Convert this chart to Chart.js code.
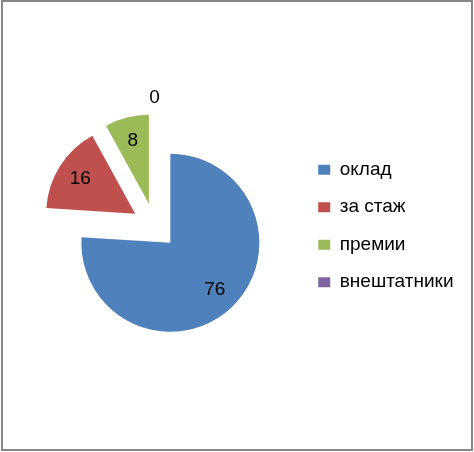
<!DOCTYPE html>
<html>
<head>
<meta charset="utf-8">
<script src="https://cdn.jsdelivr.net/npm/chart.js@4/dist/chart.umd.min.js"></script>
<style>
  body { margin: 0; background: #fff; }
  #wrap { width: 474px; height: 452px; }
</style>
</head>
<body>
<div id="wrap"><canvas id="myChart" width="474" height="452"></canvas></div>
<script>
const labels = ['оклад', 'за стаж', 'премии', 'внештатники']
const values = [76, 16, 8, 0]
const colors = ['#4F81BD', '#C0504D', '#9BBB59', '#8064A2']

const FONT = '"Liberation Sans", Arial, sans-serif'
const RADIUS = 89
const EXPLODE = 23   // px each slice is pulled out

// chart.js grows an exploded arc by offset*fix and trims its angles;
// undo both so the slices look like a plain exploded pie
const fixRadius = {
  id: 'fixRadius',
  afterDatasetUpdate(chart, args) {
    const meta = chart.getDatasetMeta(args.index)
    meta.data.forEach(arc => {
      const off = (arc.options.offset || 0) / 4
      const fix = 1 - Math.sin(Math.min(Math.PI, arc.circumference || 0))
      const rOff = off * fix
      arc.outerRadius = RADIUS - rOff
      if (arc.circumference > 0) {
        const trim = rOff / (2 * Math.PI * RADIUS)
        arc.startAngle -= trim
        arc.endAngle += trim
      }
    })
  }
}

// value labels drawn inside slices, zero values just outside
const sliceLabels = {
  id: 'sliceLabels',
  afterDatasetsDraw(chart) {
    const ctx = chart.ctx
    const meta = chart.getDatasetMeta(0)
    ctx.save()
    ctx.font = '19px ' + FONT
    ctx.fillStyle = '#000'
    ctx.textAlign = 'center'
    ctx.textBaseline = 'middle'
    meta.data.forEach((arc, i) => {
      const mid = (arc.startAngle + arc.endAngle) / 2
      const off = (arc.options.offset || 0) / 4
      const d = values[i] == 0 ? off + RADIUS + 16 : off + RADIUS * 0.73
      ctx.fillText(String(values[i]), arc.x + Math.cos(mid) * d, arc.y + Math.sin(mid) * d)
    })
    ctx.restore()
  }
}

const frame = {
  id: 'frame',
  afterDraw(chart) {
    const ctx = chart.ctx
    ctx.save()
    ctx.strokeStyle = '#878787'
    ctx.lineWidth = 2
    ctx.strokeRect(2, 1, 470, 449)
    ctx.restore()
  }
}

const data = {
  labels: labels,
  datasets: [{
    data: values,
    backgroundColor: colors,
    borderWidth: 0,
    offset: EXPLODE * 4,
    radius: RADIUS
  }]
}

const config = {
  type: 'pie',
  data: data,
  plugins: [fixRadius, sliceLabels, frame],
  options: {
    responsive: false,
    animation: false,
    devicePixelRatio: 1,
    layout: { padding: { left: 9.5, right: 10.5, top: 0, bottom: 0 } },
    plugins: {
      legend: {
        position: 'right',
        labels: {
          boxWidth: 12,
          boxHeight: 10,
          padding: 18.5,
          color: '#000',
          font: { family: FONT, size: 19 }
        }
      },
      tooltip: { enabled: false }
    }
  }
}

const myChart = new Chart(document.getElementById('myChart'), config)
</script>
</body>
</html>
